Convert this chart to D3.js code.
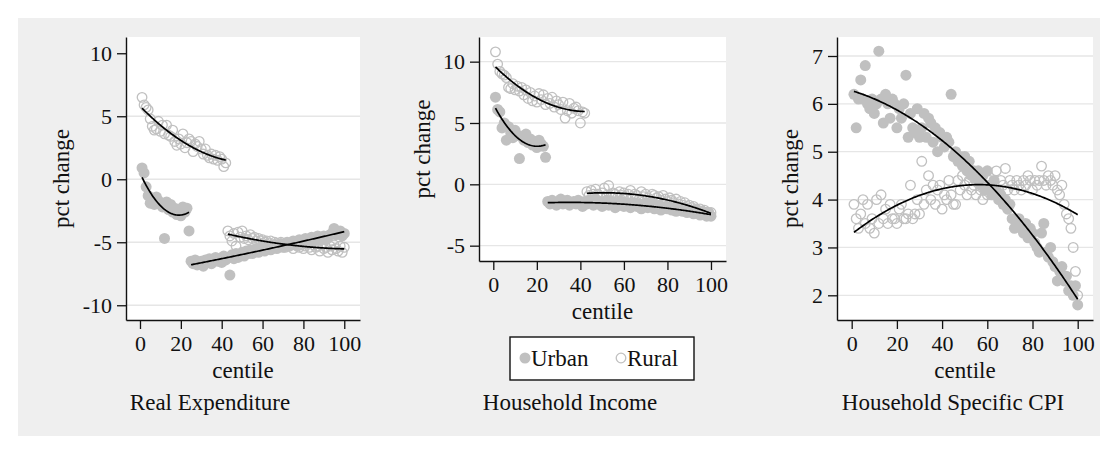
<!DOCTYPE html>
<html>
<head>
<meta charset="utf-8">
<script src="https://cdn.jsdelivr.net/npm/d3@7"></script>
<style>
  body { margin: 0; background: #ffffff; }
  svg { display: block; font-family: "Liberation Serif", "Times New Roman", serif; }
</style>
</head>
<body>
<script>
// Percent change by centile, urban vs rural, three outcomes

var centiles = d3.range(1, 101);
var xTicks = [0, 20, 40, 60, 80, 100];
var seriesNames = ["Urban", "Rural"];

// Real Expenditure
var expUrban = [
    0.9, 0.5, -0.6, -1.3, -1.9, -1.5, -2.0, -1.4, -1.7, -1.9,
    -2.2, -4.7, -1.8, -2.4, -2.0, -2.6, -2.3, -2.8, -2.5, -2.9,
    -2.2, -2.6, -2.3, -4.1,
    -6.5, -6.7, -6.4, -6.8, -6.6, -6.5, -6.9, -6.4, -6.6, -6.3,
    -6.7, -6.4, -6.2, -6.5, -6.3, -6.6, -6.1, -6.4, -6.2, -7.6,
    -6.0, -6.3, -5.9, -6.2, -6.0, -5.8, -6.1, -5.7, -5.9, -5.6,
    -5.9, -5.7, -5.5, -5.8, -5.6, -5.4, -5.7, -5.5, -5.3, -5.6,
    -5.4, -5.2, -5.5, -5.3, -5.1, -5.4, -5.2, -5.0, -5.3, -5.1,
    -4.9, -5.2, -5.0, -4.8, -5.1, -4.9, -4.7, -5.0, -4.8, -4.6,
    -4.9, -4.7, -4.5, -4.8, -4.6, -4.5, -4.8, -4.6, -4.4, -4.3,
    -3.9, -4.4, -4.2, -4.1, -4.5, -4.3
];
var expRural = [
    6.5, 5.9, 5.7, 5.5, 4.8, 4.2, 3.9, 4.0, 4.6, 3.8,
    4.3, 3.6, 4.3, 3.5, 3.4, 3.9, 3.0, 2.7, 3.2, 2.8,
    3.6, 2.5, 2.9, 3.2, 3.0, 2.2, 2.8, 2.6, 3.0, 2.4,
    2.0, 2.4, 1.9, 1.7, 2.0, 1.6, 1.9, 1.5, 1.8, 1.6,
    1.0, 1.3,
    -4.1, -4.5, -4.9, -4.3, -5.3, -4.2, -4.6, -4.1, -4.7, -4.5,
    -4.8, -4.4, -4.7, -4.6, -4.9, -4.7, -4.9, -4.8, -5.0, -4.9,
    -5.1, -4.9, -5.2, -5.0, -5.1, -5.3, -5.0, -5.2, -5.4, -5.1,
    -5.3, -5.2, -5.5, -5.1, -5.3, -5.4, -5.2, -5.5, -5.3, -5.1,
    -5.4, -5.6, -5.2, -5.4, -5.3, -5.7, -5.2, -5.5, -5.4, -5.8,
    -5.3, -5.6, -5.2, -5.5, -5.7, -5.3, -5.8, -5.4
];
var expBreaks = { urban: [25], rural: [43] };
var expYTicks = [-10, -5, 0, 5, 10];

// Household Income
var incUrban = [
    7.1, 6.1, 5.9, 4.6, 5.0, 3.6, 4.7, 4.2, 3.8, 4.4,
    4.0, 2.1, 3.9, 3.6, 4.1, 3.4, 3.7, 3.2, 3.5, 3.0,
    3.6, 3.3, 3.1, 2.2,
    -1.4, -1.6, -1.3, -1.5, -1.7, -1.4, -1.2, -1.6, -1.5, -1.3,
    -1.7, -1.5, -1.4, -1.6, -1.3, -1.5, -1.8, -1.4, -1.6, -1.3,
    -1.5, -1.7, -1.2, -1.6, -1.4, -1.8, -1.5, -1.3, -1.7, -1.6,
    -1.4, -1.9, -1.5, -1.7, -1.4, -1.8, -1.6, -1.5, -1.9, -1.7,
    -1.5, -1.8, -1.6, -2.0, -1.7, -1.5, -1.9, -1.8, -1.6, -2.0,
    -1.8, -1.7, -2.1, -1.9, -1.8, -2.0, -1.9, -2.1, -1.8, -2.2,
    -2.0, -1.9, -2.2, -2.0, -2.3, -2.1, -2.2, -2.4, -2.1, -2.3,
    -2.5, -2.2, -2.4, -2.6, -2.3, -2.6
];
var incRural = [
    10.8, 9.8, 9.2, 9.0, 8.9, 8.7, 7.9, 7.8, 8.2, 7.7,
    8.0, 7.6, 7.9, 7.3, 7.7, 7.0, 7.5, 6.8, 7.2, 6.7,
    7.4, 6.9, 7.3, 6.5, 7.0, 6.6, 7.1, 6.3, 6.8, 6.5,
    6.1, 6.7, 5.4, 6.0, 6.6, 5.8, 6.2, 6.3, 6.0, 5.0,
    5.9, 5.8,
    -0.6, -0.9, -0.5, -0.8, -0.4, -0.8, -1.0, -0.7, -0.3, -0.9,
    -0.1, -1.0, -0.7, -0.8, -1.1, -0.6, -0.9, -0.7, -1.0, -0.8,
    -0.5, -1.1, -0.8, -0.9, -1.2, -0.6, -1.0, -0.8, -1.1, -1.3,
    -0.8, -0.9, -1.1, -1.0, -1.3, -0.9, -1.2, -1.4, -1.1, -1.3,
    -1.5, -1.2, -1.6, -1.4, -1.7, -1.5, -1.8, -1.7, -1.9, -1.8,
    -2.0, -2.1, -2.0, -2.2, -2.1, -2.3, -2.4, -2.3
];
var incBreaks = { urban: [25], rural: [43] };
var incYTicks = [-5, 0, 5, 10];

// Household Specific CPI
var cpiUrban = [
    6.2, 5.5, 6.1, 6.5, 6.1, 6.8, 6.0, 5.9, 6.1, 5.8,
    6.0, 7.1, 6.1, 5.6, 6.2, 6.0, 5.7, 6.1, 6.0, 5.5,
    5.9, 5.7, 6.0, 6.6, 5.3, 5.8, 5.5, 5.4, 5.9, 5.3,
    5.5, 5.8, 5.3, 5.7, 5.6, 5.2, 5.5, 5.0, 5.4, 5.3,
    5.1, 5.3, 5.2, 6.2, 4.9, 5.0, 4.8, 4.9, 4.7, 4.9,
    4.6, 4.8, 4.5, 4.6, 4.4, 4.6, 4.3, 4.5, 4.2, 4.6,
    4.3, 4.1, 4.4, 4.2, 4.0, 4.1, 3.9, 4.0, 3.8, 3.9,
    3.6, 3.4, 3.5, 3.6, 3.4, 3.3, 3.5, 3.2, 3.4, 3.3,
    3.1, 3.0, 2.9, 3.3, 3.5, 2.9, 2.8, 3.0, 2.7, 2.6,
    2.3, 2.5, 2.6, 2.3, 2.4, 2.1, 2.2, 2.0, 2.2, 1.8
];
var cpiRural = [
    3.9, 3.6, 3.4, 3.7, 4.0, 3.5, 3.9, 3.4, 3.6, 3.3,
    4.0, 3.5, 4.1, 3.6, 3.8, 3.5, 3.9, 3.6, 3.6, 3.5,
    3.8, 3.9, 3.6, 3.6, 3.7, 4.3, 3.6, 3.7, 4.0, 3.7,
    4.8, 3.9, 4.2, 4.5, 4.0, 4.3, 3.9, 4.2, 4.3, 3.8,
    4.1, 4.0, 4.4, 4.1, 3.9, 3.9, 4.4, 4.2, 4.5, 4.3,
    4.1, 4.4, 4.2, 4.3, 4.1, 4.4, 4.2, 4.0, 4.3, 4.1,
    4.4, 4.2, 4.3, 4.6, 4.2, 4.4, 4.3, 4.65, 4.2, 4.4,
    4.3, 4.2, 4.4, 4.3, 4.2, 4.4, 4.3, 4.5, 4.4, 4.2,
    4.4, 4.3, 4.4, 4.7, 4.4, 4.3, 4.5, 4.4, 4.3, 4.5,
    4.2, 4.1, 4.3, 3.9, 3.7, 3.6, 3.4, 3.0, 2.5, 2.0
];
var cpiBreaks = { urban: [], rural: [] };
var cpiYTicks = [2, 3, 4, 5, 6, 7];

// quadratic least squares fit (like Stata qfit)
function qfit(pts) {
    var mx = d3.mean(pts, function(p) { return p[0]; });
    var A = [[0, 0, 0], [0, 0, 0], [0, 0, 0]];
    var r = [0, 0, 0];
    pts.forEach(function(p) {
        var u = p[0] - mx;
        var v = [1, u, u * u];
        for (var i = 0; i < 3; i++) {
            r[i] += v[i] * p[1];
            for (var j = 0; j < 3; j++) A[i][j] += v[i] * v[j];
        }
    });
    // gaussian elimination
    for (var k = 0; k < 3; k++) {
        for (var i = k + 1; i < 3; i++) {
            var f = A[i][k] / A[k][k];
            for (var j = k; j < 3; j++) A[i][j] -= f * A[k][j];
            r[i] -= f * r[k];
        }
    }
    var c = [0, 0, 0];
    for (var i = 2; i >= 0; i--) {
        var s = r[i];
        for (var j = i + 1; j < 3; j++) s -= A[i][j] * c[j];
        c[i] = s / A[i][i];
    }
    return function(x) { var u = x - mx; return c[0] + c[1] * u + c[2] * u * u; };
}

function segments(values, breaks) {
    var pts = values.map(function(v, i) { return [centiles[i], v]; });
    var cuts = [1].concat(breaks).concat([101]);
    var out = [];
    for (var i = 0; i < cuts.length - 1; i++) {
        out.push(pts.filter(function(p) { return p[0] >= cuts[i] && p[0] < cuts[i + 1]; }));
    }
    return out;
}

function init() {
    var w = 1118;
    var h = 453;
    var grey = "#c0c0c0";

    var svg = d3.select("body")
                .append("svg")
                .attr("width", w)
                .attr("height", h);

    svg.append("rect")
        .attr("x", 18).attr("y", 18)
        .attr("width", 1082).attr("height", 418)
        .attr("fill", "#efefef");

    var panels = [
        { title: "Real Expenditure", urban: expUrban, rural: expRural, breaks: expBreaks,
          yTicks: expYTicks, yDomain: [-11.17, 11.29], xDomain: [-6.85, 107.7],
          left: 126, right: 360, top: 37, bottom: 320, ylabX: 69, titleX: 210, noGridMax: true },
        { title: "Household Income", urban: incUrban, rural: incRural, breaks: incBreaks,
          yTicks: incYTicks, yDomain: [-6.25, 12.01], xDomain: [-6.57, 106.9],
          left: 479, right: 726, top: 37, bottom: 261, ylabX: 430, titleX: 570, legend: true },
        { title: "Household Specific CPI", urban: cpiUrban, rural: cpiRural, breaks: cpiBreaks,
          yTicks: cpiYTicks, yDomain: [1.484, 7.397], xDomain: [-6.5, 106.77],
          left: 837, right: 1093, top: 37, bottom: 320, ylabX: 798, titleX: 953 }
    ];

    panels.forEach(function(p) {
        var xScale = d3.scaleLinear().domain(p.xDomain).range([p.left, p.right]);
        var yScale = d3.scaleLinear().domain(p.yDomain).range([p.bottom, p.top]);

        var g = svg.append("g");

        // plot region
        g.append("rect")
            .attr("x", p.left).attr("y", p.top)
            .attr("width", p.right - p.left).attr("height", p.bottom - p.top)
            .attr("fill", "#ffffff");

        // grid lines
        var gridTicks = p.noGridMax ? p.yTicks.slice(0, -1) : p.yTicks;
        g.selectAll("line.grid")
            .data(gridTicks)
            .enter()
            .append("line")
            .attr("class", "grid")
            .attr("x1", p.left).attr("x2", p.right)
            .attr("y1", function(d) { return yScale(d); })
            .attr("y2", function(d) { return yScale(d); })
            .attr("stroke", "#e6e6e6")
            .attr("stroke-width", 1.3);

        // urban: filled circles
        g.append("g").selectAll("circle")
            .data(p.urban.map(function(v, i) { return [centiles[i], v]; }))
            .enter()
            .append("circle")
            .attr("cx", function(d) { return xScale(d[0]); })
            .attr("cy", function(d) { return yScale(d[1]); })
            .attr("r", 5.5)
            .attr("fill", grey);

        // rural: hollow circles
        g.append("g").selectAll("circle")
            .data(p.rural.map(function(v, i) { return [centiles[i], v]; }))
            .enter()
            .append("circle")
            .attr("cx", function(d) { return xScale(d[0]); })
            .attr("cy", function(d) { return yScale(d[1]); })
            .attr("r", 4.8)
            .attr("fill", "none")
            .attr("stroke", grey)
            .attr("stroke-width", 1.3);

        // quadratic fits for each segment
        var line = d3.line()
                     .x(function(d) { return xScale(d[0]); })
                     .y(function(d) { return yScale(d[1]); });
        var segs = segments(p.urban, p.breaks.urban).concat(segments(p.rural, p.breaks.rural));
        segs.forEach(function(s) {
            var f = qfit(s);
            var x0 = s[0][0], x1 = s[s.length - 1][0];
            var curve = d3.range(x0, x1 + 0.001, 0.5).map(function(x) { return [x, f(x)]; });
            g.append("path")
                .attr("d", line(curve))
                .attr("fill", "none")
                .attr("stroke", "#000")
                .attr("stroke-width", 1.7);
        });

        // axes
        var yAxis = d3.axisLeft(yScale)
                      .tickValues(p.yTicks)
                      .tickSizeInner(9).tickSizeOuter(0).tickPadding(5)
                      .tickFormat(function(d) { return String(d); });
        var ya = g.append("g")
            .attr("transform", "translate(" + p.left + ",0)")
            .call(yAxis);

        var xAxis = d3.axisBottom(xScale)
                      .tickValues(xTicks)
                      .tickSizeInner(9).tickSizeOuter(0).tickPadding(6)
                      .tickFormat(function(d) { return String(d); });
        var xa = g.append("g")
            .attr("transform", "translate(0," + p.bottom + ")")
            .call(xAxis);

        [ya, xa].forEach(function(a) {
            a.attr("font-family", null).attr("font-size", null);
            a.select(".domain").attr("stroke", "#111").attr("stroke-width", 1.4);
            a.selectAll(".tick line").attr("stroke", "#111").attr("stroke-width", 1.3);
            a.selectAll(".tick text")
                .attr("fill", "#111")
                .style("font-size", "22px");
        });

        // axis titles
        g.append("text")
            .attr("transform", "translate(" + p.ylabX + "," + ((p.top + p.bottom) / 2) + ") rotate(-90)")
            .attr("text-anchor", "middle")
            .style("font-size", "23px")
            .attr("fill", "#111")
            .text("pct change");

        g.append("text")
            .attr("x", (p.left + p.right) / 2)
            .attr("y", p.bottom + 58)
            .attr("text-anchor", "middle")
            .style("font-size", "23px")
            .attr("fill", "#111")
            .text("centile");

        // subgraph title
        svg.append("text")
            .attr("x", p.titleX)
            .attr("y", 410)
            .attr("text-anchor", "middle")
            .style("font-size", "23px")
            .attr("fill", "#111")
            .text(p.title);

        if (p.legend) {
            var lg = svg.append("g");
            lg.append("rect")
                .attr("x", 510).attr("y", 337)
                .attr("width", 184).attr("height", 43)
                .attr("fill", "#ffffff")
                .attr("stroke", "#111")
                .attr("stroke-width", 1.4);
            var items = [
                { name: seriesNames[0], mx: 525, filled: true },
                { name: seriesNames[1], mx: 621, filled: false }
            ];
            items.forEach(function(it) {
                lg.append("circle")
                    .attr("cx", it.mx).attr("cy", 358)
                    .attr("r", it.filled ? 5.5 : 4.8)
                    .attr("fill", it.filled ? grey : "none")
                    .attr("stroke", it.filled ? "none" : grey)
                    .attr("stroke-width", 1.3);
                lg.append("text")
                    .attr("x", it.mx + 6)
                    .attr("y", 366)
                    .style("font-size", "23px")
                    .attr("fill", "#111")
                    .text(it.name);
            });
        }
    });
}

window.onload = init;
</script>
</body>
</html>
